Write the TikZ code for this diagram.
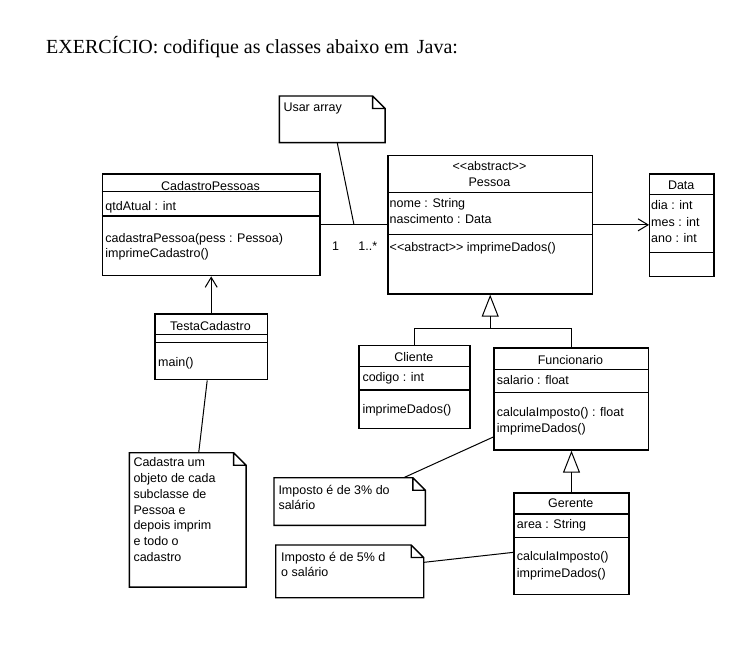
\documentclass[tikz,border=0pt]{standalone}
\usepackage{fontspec}
\setmainfont{Liberation Serif}
\newfontfamily\umlfont{Liberation Sans}
\usetikzlibrary{calc,arrows.meta}

\begin{document}
\begin{tikzpicture}[x=1pt,y=-1pt,
    borda/.style={line width=1.4pt},
    classe/.style={borda,draw,anchor=north west,inner sep=0pt},
    nota/.style={anchor=north west,inner sep=0pt},
    txt/.style={font=\umlfont\fontsize{12.5}{15}\selectfont,inner sep=0pt,anchor=base west},
    titulo/.style={txt,anchor=base},
    ligacao/.style={line width=1pt},
    heranca/.style={ligacao,-{Triangle[open,length=22pt,width=17pt]}},
    navega/.style={ligacao,-{Straight Barb[length=10pt,width=12pt]}}]
  \def\dobra{12.5}%dobra da nota
  \def\classe#1#2#3#4#5#6#7{%nome, x, y, largura, altura, linha 1, linha 2
    \node[classe,minimum width=#4pt,minimum height=#5pt] (#1) at (#2,#3) {};
    \draw[borda] ($(#1.north west)+(0,#6)$) -- ($(#1.north east)+(0,#6)$);
    \draw[borda] ($(#1.north west)+(0,#7)$) -- ($(#1.north east)+(0,#7)$);}
  \def\nota#1#2#3#4#5{%nome, x, y, largura, altura
    \node[nota,minimum width=#4pt,minimum height=#5pt] (#1) at (#2,#3) {};
    \draw[borda] (#1.north west) -- ([xshift=-\dobra pt]#1.north east) -- ([yshift=-\dobra pt]#1.north east)
      -- (#1.south east) -- (#1.south west) -- cycle
      ([xshift=-\dobra pt]#1.north east) |- ([yshift=-\dobra pt]#1.north east);}
  \useasboundingbox (0,0) rectangle (755,663);
  \node[font=\fontsize{20}{24}\selectfont,anchor=base west,inner sep=0pt] (enunciado) at (46,53.3) {EXERCÍCIO: codifique as classes abaixo em\hspace{3pt} Java:};
  %classes
  \classe{cad}{101.7}{173.3}{217.6}{101.7}{18.4}{42.7}
  \classe{pes}{387.3}{155}{204.4}{138.3}{37.7}{79.3}
  \classe{dat}{649}{173.3}{64.3}{102.7}{21}{79.4}
  \classe{tes}{154.3}{313.3}{112.4}{65.7}{21}{29}
  \classe{cli}{358.3}{345}{111}{82.7}{21.7}{45}
  \classe{fun}{493.3}{347.3}{154.4}{102}{22}{45.4}
  \classe{ger}{513.3}{492.3}{115}{101.7}{21.7}{45}
  \node[titulo] (cad-nome) at (210.5,190.3) {CadastroPessoas};
  \node[txt] (cad-a1) at (105.2,210.5) {qtdAtual : int};
  \node[txt] (cad-m1) at (105.2,242.3) {cadastraPessoa(pess : Pessoa)};
  \node[txt] (cad-m2) at (105.2,258) {imprimeCadastro()};
  \node[titulo] (pes-est) at (489.5,170.7) {<<abstract>>};
  \node[titulo] (pes-nome) at (489.5,186.7) {Pessoa};
  \node[txt] (pes-a1) at (389.5,208) {nome : String};
  \node[txt] (pes-a2) at (389.5,223.5) {nascimento : Data};
  \node[txt] (pes-m1) at (389.5,251.7) {<<abstract>> imprimeDados()};
  \node[titulo] (dat-nome) at (681.2,189.5) {Data};
  \node[txt] (dat-a1) at (651,210) {dia : int};
  \node[txt] (dat-a2) at (651,226.5) {mes : int};
  \node[txt] (dat-a3) at (651,242.3) {ano : int};
  \node[titulo] (tes-nome) at (210.5,330) {TestaCadastro};
  \node[txt] (tes-m1) at (158,366) {main()};
  \node[titulo] (cli-nome) at (413.8,361.7) {Cliente};
  \node[txt] (cli-a1) at (362.3,381.7) {codigo : int};
  \node[txt] (cli-m1) at (362.3,413.3) {imprimeDados()};
  \node[titulo] (fun-nome) at (570.5,364) {Funcionario};
  \node[txt] (fun-a1) at (496.7,384) {salario : float};
  \node[txt] (fun-m1) at (496.7,416) {calculaImposto() : float};
  \node[txt] (fun-m2) at (496.7,432.3) {imprimeDados()};
  \node[titulo] (ger-nome) at (570.8,507.7) {Gerente};
  \node[txt] (ger-a1) at (516.7,528) {area : String};
  \node[txt] (ger-m1) at (516.7,560.7) {calculaImposto()};
  \node[txt] (ger-m2) at (516.7,577) {imprimeDados()};
  %notas
  \nota{n1}{279.3}{96}{105.4}{46.3}
  \nota{n2}{129.3}{452.7}{116.4}{134}
  \nota{n3}{274}{477.7}{151}{47.3}
  \nota{n4}{275.7}{545}{147.6}{52.3}
  \node[txt] (n1-0) at (283.3,111.5) {Usar array};
  \foreach \linha [count=\i from 0] in {Cadastra um,objeto de cada,subclasse de,Pessoa e,depois imprim,e todo o,cadastro}
    \node[txt] (n2-\i) at (133.3,466.7+15.8*\i) {\linha};
  \foreach \linha [count=\i from 0] in {Imposto é de 3\% do,salário}
    \node[txt] (n3-\i) at (278.3,494.3+15*\i) {\linha};
  \foreach \linha [count=\i from 0] in {Imposto é de 5\% d,o salário}
    \node[txt] (n4-\i) at (281,561.7+15*\i) {\linha};
  %ligacoes
  \draw[ligacao] (cad.east) -- (pes.west);
  \coordinate (assoc) at ($(cad.east)!0.5!(pes.west)$);
  \draw[ligacao] ([xshift=5pt]n1.south) -- (assoc);
  \node[titulo] (mult-cad) at ($(cad.east)+(15,25.5)$) {1};
  \node[titulo] (mult-pes) at ($(pes.west)+(-19.5,25.5)$) {1..*};
  \draw[navega] (pes.east) -- (pes.east -| dat.west);
  \draw[navega] (tes.north) -- (cad.south);
  \draw[ligacao] ([xshift=-4pt]tes.south) -- ([xshift=11pt]n2.north);
  \coordinate (juncao) at ($(pes.south)+(0,34)$);
  \draw[heranca] (juncao) -- (pes.south);
  \draw[ligacao] (cli.north) |- (juncao) -| (fun.north);
  \draw[heranca] (ger.north) -- (ger.north |- fun.south);
  \draw[ligacao] ([yshift=-38pt]fun.west) -- ([xshift=-21.7pt]n3.north east);
  \draw[ligacao] ([yshift=-8.5pt]ger.west) -- ([yshift=9pt]n4.east);
\end{tikzpicture}
\end{document}
